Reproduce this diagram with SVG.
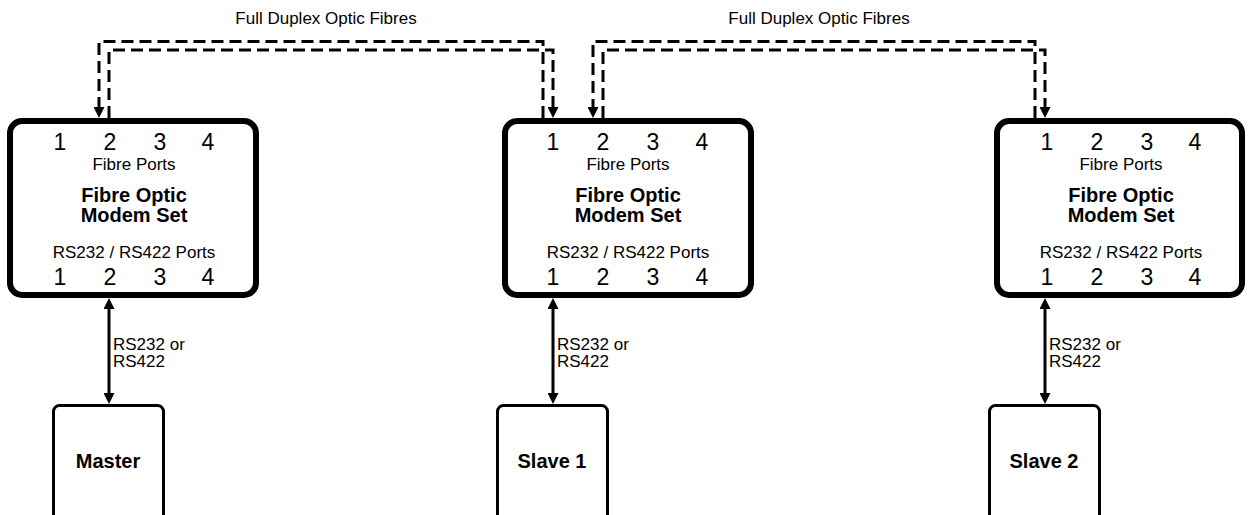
<svg xmlns="http://www.w3.org/2000/svg" width="1253" height="515" viewBox="0 0 1253 515">
<style>
text{font-family:"Liberation Sans",Arial,sans-serif;fill:#000}
.num{font-size:23px}
.lbl{font-size:17px}
.ttl{font-size:20px;font-weight:bold}
.box{fill:#fff;stroke:#000;stroke-width:6}
.dev{fill:#fff;stroke:#000;stroke-width:3}
.fib{fill:none;stroke:#000;stroke-width:3;stroke-dasharray:12 6}
.ser{fill:none;stroke:#000;stroke-width:3}
</style>
<defs>
<marker id="ah" markerUnits="userSpaceOnUse" markerWidth="11" markerHeight="11" refX="0" refY="5.5" orient="auto-start-reverse" viewBox="0 0 11 11">
<path d="M0,0 L11,5.5 L0,11 z" fill="#000"/>
</marker>
</defs>
<rect width="1253" height="515" fill="#fff"/>
<g id="connectors">
<path class="fib" d="M543,118 V41.5 H99 V107" marker-end="url(#ah)"/>
<path class="fib" d="M109,118 V50 H553 V107" marker-end="url(#ah)"/>
<path class="fib" d="M1035,118 V41.5 H593 V107" marker-end="url(#ah)"/>
<path class="fib" d="M603,118 V50 H1045 V107" marker-end="url(#ah)"/>
<path class="ser" d="M109,309 V393" marker-start="url(#ah)" marker-end="url(#ah)"/>
<path class="ser" d="M553,309 V393" marker-start="url(#ah)" marker-end="url(#ah)"/>
<path class="ser" d="M1045,309 V393" marker-start="url(#ah)" marker-end="url(#ah)"/>
<text class="lbl" x="326" y="24" text-anchor="middle">Full Duplex Optic Fibres</text>
<text class="lbl" x="819" y="24" text-anchor="middle">Full Duplex Optic Fibres</text>
<text class="lbl" x="113" y="350">RS232 or</text>
<text class="lbl" x="113" y="367">RS422</text>
<text class="lbl" x="557" y="350">RS232 or</text>
<text class="lbl" x="557" y="367">RS422</text>
<text class="lbl" x="1049" y="350">RS232 or</text>
<text class="lbl" x="1049" y="367">RS422</text>
</g>
<g id="modem1" transform="translate(10,0)">
<rect class="box" x="0" y="121" width="246" height="174" rx="12"/>
<g class="num" text-anchor="middle"><text x="50" y="150">1</text><text x="100" y="150">2</text><text x="150" y="150">3</text><text x="198" y="150">4</text></g>
<text class="lbl" x="124" y="170" text-anchor="middle">Fibre Ports</text>
<text class="ttl" x="124" y="202" text-anchor="middle">Fibre Optic</text>
<text class="ttl" x="124" y="222" text-anchor="middle">Modem Set</text>
<text class="lbl" x="124" y="258" text-anchor="middle">RS232 / RS422 Ports</text>
<g class="num" text-anchor="middle"><text x="50" y="285">1</text><text x="100" y="285">2</text><text x="150" y="285">3</text><text x="198" y="285">4</text></g>
</g>
<g id="modem2" transform="translate(505,0)">
<rect class="box" x="0" y="121" width="246" height="174" rx="12"/>
<g class="num" text-anchor="middle"><text x="48" y="150">1</text><text x="98" y="150">2</text><text x="148" y="150">3</text><text x="197" y="150">4</text></g>
<text class="lbl" x="123" y="170" text-anchor="middle">Fibre Ports</text>
<text class="ttl" x="123" y="202" text-anchor="middle">Fibre Optic</text>
<text class="ttl" x="123" y="222" text-anchor="middle">Modem Set</text>
<text class="lbl" x="123" y="258" text-anchor="middle">RS232 / RS422 Ports</text>
<g class="num" text-anchor="middle"><text x="48" y="285">1</text><text x="98" y="285">2</text><text x="148" y="285">3</text><text x="197" y="285">4</text></g>
</g>
<g id="modem3" transform="translate(997,0)">
<rect class="box" x="0" y="121" width="245" height="174" rx="12"/>
<g class="num" text-anchor="middle"><text x="50" y="150">1</text><text x="100" y="150">2</text><text x="150" y="150">3</text><text x="198" y="150">4</text></g>
<text class="lbl" x="124" y="170" text-anchor="middle">Fibre Ports</text>
<text class="ttl" x="124" y="202" text-anchor="middle">Fibre Optic</text>
<text class="ttl" x="124" y="222" text-anchor="middle">Modem Set</text>
<text class="lbl" x="124" y="258" text-anchor="middle">RS232 / RS422 Ports</text>
<g class="num" text-anchor="middle"><text x="50" y="285">1</text><text x="100" y="285">2</text><text x="150" y="285">3</text><text x="198" y="285">4</text></g>
</g>
<g id="master">
<rect class="dev" x="53.5" y="405.5" width="110" height="130" rx="6"/>
<text class="ttl" x="108" y="468" text-anchor="middle">Master</text>
</g>
<g id="slave1">
<rect class="dev" x="497.5" y="405.5" width="110" height="130" rx="6"/>
<text class="ttl" x="552" y="468" text-anchor="middle">Slave 1</text>
</g>
<g id="slave2">
<rect class="dev" x="989.5" y="405.5" width="110" height="130" rx="6"/>
<text class="ttl" x="1044" y="468" text-anchor="middle">Slave 2</text>
</g>
</svg>
